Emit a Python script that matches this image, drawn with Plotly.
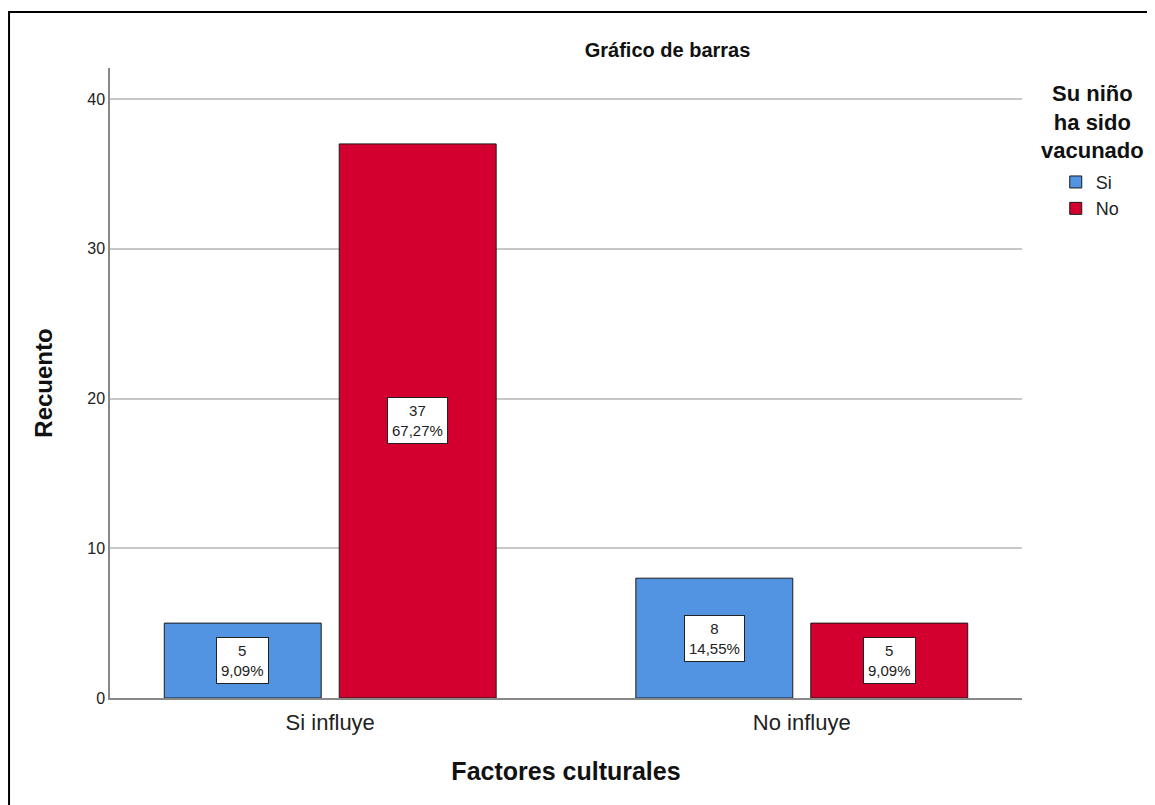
import plotly.graph_objects as go

categorias = ["Si influye", "No influye"]
series = ["Si", "No"]
recuento_si = [5, 8]
recuento_no = [37, 5]
porcentaje_si = ["9,09%", "14,55%"]
porcentaje_no = ["67,27%", "9,09%"]
colores = {"Si": "#5294E2", "No": "#D3002F"}

FUENTE = "Liberation Sans, Arial"

fig = go.Figure()
for nombre, valores in [("Si", recuento_si), ("No", recuento_no)]:
    fig.add_trace(go.Bar(
        x=categorias,
        y=valores,
        name=nombre,
        marker=dict(color=colores[nombre], line=dict(color="#1a1a1a", width=1)),
        hoverinfo="skip",
    ))

# etiquetas en caja blanca al centro de cada barra
desplazamiento = 0.1856
anotaciones = []
for i in range(len(categorias)):
    for signo, valores, pct in [(-1, recuento_si, porcentaje_si), (1, recuento_no, porcentaje_no)]:
        anotaciones.append(dict(
            x=i + signo * desplazamiento, y=valores[i] / 2, xref="x", yref="y",
            text=f"{valores[i]}<br>{pct[i]}", showarrow=False,
            font=dict(family=FUENTE, size=15, color="#222"),
            bgcolor="white", bordercolor="#222", borderwidth=1, borderpad=4,
        ))

# titulo de la leyenda centrado
anotaciones.append(dict(
    x=1.077, y=0.982, xref="paper", yref="paper", xanchor="center", yanchor="top",
    text="<b>Su niño<br>ha sido<br>vacunado</b>", showarrow=False, align="center",
    font=dict(family=FUENTE, size=22, color="#111"),
))

fig.update_layout(
    width=1147, height=797,
    paper_bgcolor="white", plot_bgcolor="white",
    barmode="group", bargap=0.258, bargroupgap=0.103,
    margin=dict(l=102, r=133, t=60, b=107),
    font=dict(family=FUENTE, color="#222"),
    title=dict(text="<b>Gráfico de barras</b>", x=0.575, xanchor="center", y=0.947, yanchor="middle",
               font=dict(size=20, color="#111")),
    xaxis=dict(range=[-0.467, 1.467], showgrid=False, showline=True, linecolor="#888", linewidth=1.5,
               ticks="", tickfont=dict(size=22, color="#222"), ticklabelstandoff=4,
               title=dict(text="<b>Factores culturales</b>", font=dict(size=25, color="#111"), standoff=28)),
    yaxis=dict(range=[0, 42.07], tickvals=[0, 10, 20, 30, 40], showgrid=True, gridcolor="#c8c8c8", gridwidth=1.5,
               showline=True, linecolor="#888", linewidth=1.5, zeroline=False, ticks="",
               tickfont=dict(size=16, color="#222"),
               title=dict(text="<b>Recuento</b>", font=dict(size=24, color="#111"), standoff=28)),
    legend=dict(x=1.037, y=0.848, xanchor="left", yanchor="top", font=dict(size=18, color="#222"),
                itemwidth=30, tracegroupgap=0, bgcolor="rgba(0,0,0,0)"),
    annotations=anotaciones,
    shapes=[dict(type="rect", xref="paper", yref="paper", x0=-0.1107, x1=1.16, y0=-0.2, y1=1.089,
                 line=dict(color="black", width=2), fillcolor="rgba(0,0,0,0)", layer="below")],
    showlegend=True,
)

fig.write_html("out.html")
